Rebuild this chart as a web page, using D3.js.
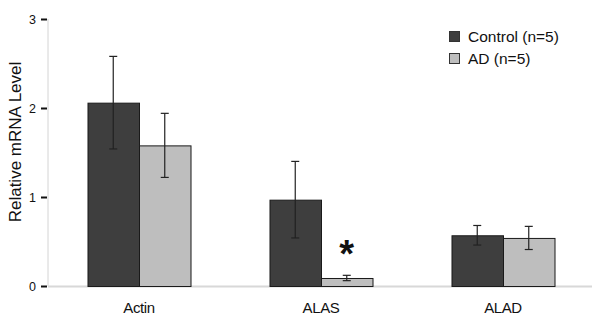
<!DOCTYPE html>
<html>
<head>
<meta charset="utf-8">
<title>Relative mRNA Level</title>
<script src="https://cdn.jsdelivr.net/npm/d3@7"></script>
<style>
  body { margin: 0; background: #fff; }
  text { font-family: "Liberation Sans", Arial, sans-serif; fill: #111; }
</style>
</head>
<body>
<div id="chart"></div>
<script>
// data
var genes = ["Actin", "ALAS", "ALAD"];
var groups = ["Control (n=5)", "AD (n=5)"];
var controlMean = [2.06, 0.97, 0.57];
var controlErr  = [0.52, 0.43, 0.11];
var adMean = [1.58, 0.09, 0.54];
var adErr  = [0.36, 0.03, 0.13];
var yTicks = [0, 1, 2, 3];
var starred = ["ALAS"]; // AD significantly different

var width = 600, height = 323;
var margin = {top: 19, right: 6, bottom: 37, left: 48};

var svg = d3.select("#chart").append("svg")
    .attr("width", width)
    .attr("height", height);

var x = d3.scaleBand()
    .domain(genes)
    .range([margin.left, width - margin.right])
    .paddingInner(0.434)
    .paddingOuter(0.217);

var xg = d3.scaleBand()
    .domain(groups)
    .range([0, x.bandwidth()]);

var y = d3.scaleLinear()
    .domain([0, 3])
    .range([height - margin.bottom, margin.top]);

var colors = {"Control (n=5)": "#3e3e3e", "AD (n=5)": "#bebebe"};

var rows = [];
genes.forEach(function (g, i) {
  rows.push({gene: g, group: groups[0], mean: controlMean[i], err: controlErr[i]});
  rows.push({gene: g, group: groups[1], mean: adMean[i], err: adErr[i]});
});

// axis lines (light gray)
svg.append("line")
    .attr("x1", margin.left).attr("x2", margin.left)
    .attr("y1", y(3)).attr("y2", y(0))
    .attr("stroke", "#d4d4d4").attr("stroke-width", 1);
svg.append("line")
    .attr("x1", margin.left).attr("x2", width - 8)
    .attr("y1", y(0) + 0.5).attr("y2", y(0) + 0.5)
    .attr("stroke", "#d8d8d8").attr("stroke-width", 2);

// y ticks
var yAxis = svg.append("g")
    .attr("transform", "translate(" + (margin.left - 1) + ",0)")
    .call(d3.axisLeft(y).tickValues(yTicks).tickSize(6).tickPadding(5).tickFormat(d3.format("d")));
yAxis.select(".domain").remove();
yAxis.selectAll(".tick line").attr("stroke", "#111").attr("stroke-width", 2);
yAxis.selectAll(".tick text")
    .style("font-family", "Liberation Sans, Arial, sans-serif")
    .style("font-size", "12.5px")
    .attr("fill", "#222");

// x labels
svg.append("g").selectAll("text")
  .data(genes)
  .enter().append("text")
    .attr("x", function (d) { return x(d) + x.bandwidth() / 2; })
    .attr("y", 313)
    .attr("text-anchor", "middle")
    .style("font-size", "15px")
    .style("letter-spacing", "-0.4px")
    .text(function (d) { return d; });

// y title
svg.append("text")
    .attr("transform", "translate(21,142) rotate(-90)")
    .attr("text-anchor", "middle")
    .style("font-size", "17px")
    .text("Relative mRNA Level");

// bars
svg.append("g").selectAll("rect")
  .data(rows)
  .enter().append("rect")
    .attr("x", function (d) { return x(d.gene) + xg(d.group) + 0.5; })
    .attr("y", function (d) { return y(d.mean) + 0.5; })
    .attr("width", xg.bandwidth())
    .attr("height", function (d) { return y(0) - y(d.mean); })
    .attr("fill", function (d) { return colors[d.group]; })
    .attr("stroke", "#1a1a1a")
    .attr("stroke-width", 1);

// error bars
var eb = svg.append("g").selectAll("g")
  .data(rows)
  .enter().append("g")
    .attr("stroke", "#222")
    .attr("stroke-width", 1.2);
var cx = function (d) { return x(d.gene) + xg(d.group) + xg.bandwidth() / 2; };
eb.append("line")
    .attr("x1", cx).attr("x2", cx)
    .attr("y1", function (d) { return y(d.mean + d.err); })
    .attr("y2", function (d) { return y(d.mean - d.err); });
[1, -1].forEach(function (s) {
  eb.append("line")
      .attr("x1", function (d) { return cx(d) - 4; })
      .attr("x2", function (d) { return cx(d) + 4; })
      .attr("y1", function (d) { return y(d.mean + s * d.err); })
      .attr("y2", function (d) { return y(d.mean + s * d.err); });
});

// significance star
svg.append("g").selectAll("text")
  .data(rows.filter(function (d) { return d.group === groups[1] && starred.indexOf(d.gene) >= 0; }))
  .enter().append("text")
    .attr("x", cx)
    .attr("y", function (d) { return y(d.mean + d.err) - 8; })
    .attr("text-anchor", "middle")
    .style("font-size", "38px")
    .style("font-weight", "bold")
    .text("*");

// legend
var legend = svg.append("g").selectAll("g")
  .data(groups)
  .enter().append("g")
    .attr("transform", function (d, i) { return "translate(449," + (31 + i * 22) + ")"; });
legend.append("rect")
    .attr("x", 0.5).attr("y", 0.5)
    .attr("width", 10).attr("height", 10)
    .attr("fill", function (d) { return colors[d]; })
    .attr("stroke", "#333");
legend.append("text")
    .attr("x", 19)
    .attr("y", 11)
    .style("font-size", "15.5px")
    .text(function (d) { return d; });
</script>
</body>
</html>
